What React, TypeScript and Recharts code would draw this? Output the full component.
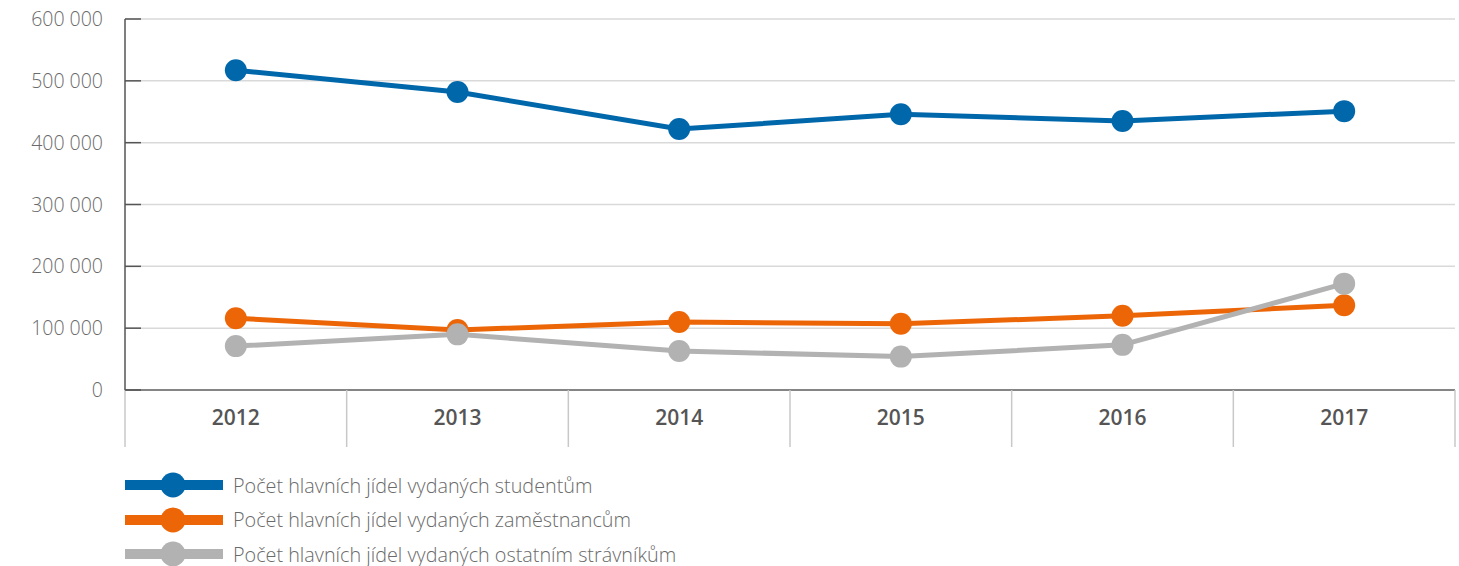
import React from "react";
import { LineChart, Line, XAxis, YAxis, CartesianGrid, Legend } from "recharts";

const years = ["2012", "2013", "2014", "2015", "2016", "2017"];
const studenti = [517000, 482000, 422000, 446000, 435000, 451000];
const zamestnanci = [116000, 97000, 110000, 107000, 120000, 137000];
const ostatni = [71000, 90000, 63000, 54000, 73000, 172000];
const yTicks = [0, 100000, 200000, 300000, 400000, 500000, 600000];

const SERIES = [
  { key: "studenti", name: "Počet hlavních jídel vydaných studentům", color: "#0067ab" },
  { key: "zamestnanci", name: "Počet hlavních jídel vydaných zaměstnancům", color: "#ec6608" },
  { key: "ostatni", name: "Počet hlavních jídel vydaných ostatním strávníkům", color: "#b2b2b2" },
];

const data = years.map((year, i) => ({
  year,
  studenti: studenti[i],
  zamestnanci: zamestnanci[i],
  ostatni: ostatni[i],
}));

const FONT = "'Open Sans', sans-serif";

function formatNumber(v: number) {
  return String(v).replace(/\B(?=(\d{3})+(?!\d))/g, " ");
}

function YTick({ x, y, payload }: any) {
  return (
    <g>
      <line x1={x + 22} x2={x + 38} y1={y} y2={y} stroke="#555" strokeWidth={1.5} />
      <text
        x={x}
        y={y}
        dy={7}
        textAnchor="end"
        fill="#6a6a6a"
        fontSize={19.5}
        fontWeight={300}
        fontFamily={FONT}
      >
        {formatNumber(payload.value)}
      </text>
    </g>
  );
}

function XTick({ x, y, payload, index }: any) {
  const half = payload.offset ?? 0;
  return (
    <g>
      <line x1={x - half} x2={x - half} y1={y} y2={y + 57} stroke="#c8c8c8" strokeWidth={1.5} />
      {index === years.length - 1 && (
        <line x1={x + half} x2={x + half} y1={y} y2={y + 57} stroke="#c8c8c8" strokeWidth={1.5} />
      )}
      <text
        x={x}
        y={y + 35}
        textAnchor="middle"
        fill="#555"
        fontSize={21}
        fontWeight={600}
        fontFamily={FONT}
      >
        {payload.value}
      </text>
    </g>
  );
}

function LegendContent() {
  return (
    <div style={{ fontFamily: FONT }}>
      {SERIES.map((s) => (
        <div key={s.key} style={{ display: "flex", alignItems: "center", height: 34.5 }}>
          <svg width={98} height={28} style={{ marginRight: 10 }}>
            <rect x={0} y={9} width={98} height={10} fill={s.color} />
            <circle cx={48} cy={14} r={12.5} fill={s.color} />
          </svg>
          <span style={{ fontSize: 19.8, color: "#6a6a6a", fontWeight: 300 }}>{s.name}</span>
        </div>
      ))}
    </div>
  );
}

export default function App() {
  return (
    <div style={{ position: "absolute", left: 0, top: 0, background: "#fff" }}>
      <LineChart
        width={1459}
        height={566}
        data={data}
        margin={{ top: 19, right: 4, left: 0, bottom: 116 }}
      >
        <CartesianGrid horizontal vertical={false} stroke="#d9d9d9" strokeWidth={1.5} />
        <XAxis
          dataKey="year"
          scale="band"
          height={60}
          axisLine={{ stroke: "#666", strokeWidth: 1.5 }}
          tickLine={false}
          tickSize={0}
          tickMargin={0}
          tick={<XTick />}
          interval={0}
        />
        <YAxis
          width={125}
          domain={[0, 600000]}
          ticks={yTicks}
          axisLine={{ stroke: "#555", strokeWidth: 1.5 }}
          tickLine={false}
          tickSize={0}
          tickMargin={22}
          tick={<YTick />}
          interval={0}
        />
        <Legend
          layout="vertical"
          align="center"
          verticalAlign="middle"
          content={<LegendContent />}
          wrapperStyle={{ left: 125, top: 468, width: 700, height: 110 }}
        />
        {SERIES.map((s) => (
          <Line
            key={s.key}
            type="linear"
            dataKey={s.key}
            name={s.name}
            stroke={s.color}
            strokeWidth={5}
            dot={{ r: 11, fill: s.color, stroke: "none" }}
            activeDot={false}
            isAnimationActive={false}
          />
        ))}
      </LineChart>
    </div>
  );
}
